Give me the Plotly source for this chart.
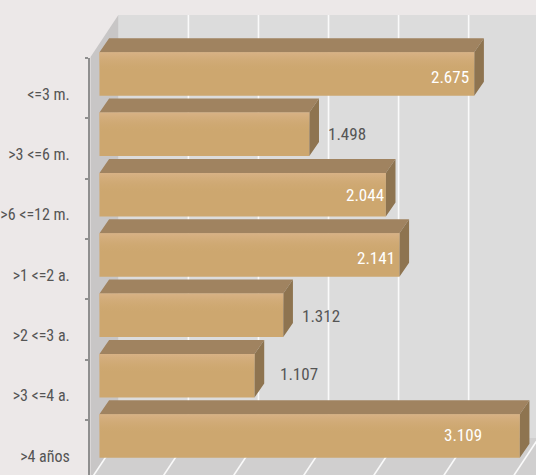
import plotly.graph_objects as go

categories = ["<=3 m.", ">3 <=6 m.", ">6 <=12 m.", ">1 <=2 a.", ">2 <=3 a.", ">3 <=4 a.", ">4 años"]
values = [2675, 1498, 2044, 2141, 1312, 1107, 3109]
value_labels = ["2.675", "1.498", "2.044", "2.141", "1.312", "1.107", "3.109"]
grid_values = [0, 500, 1000, 1500, 2000, 2500, 3000]

W, H = 536, 475
AXIS_MAX = 3000
X0_PX, PX_PER_UNIT = 97.0, 422.7 / 3000
Y0_PX, PITCH = 74.0, 60.33
BAR_H = 43.5
DX, DY = 9.7, 14.0          # bar depth, px
WALL_DX = 19.0
FONT = "Roboto Condensed, DejaVu Sans Condensed, Liberation Sans, sans-serif"
xd = lambda px: (px - X0_PX) / PX_PER_UNIT
yd = lambda py: (py - Y0_PX) / PITCH
xp = lambda v: X0_PX + v * PX_PER_UNIT
hw = BAR_H / PITCH / 2

clipped = [min(v, AXIS_MAX) for v in values]

top_x, top_y, side_x, side_y = [], [], [], []
for i, v in enumerate(clipped):
    t, b = i - hw, i + hw
    ddx, ddy = DX / PX_PER_UNIT, DY / PITCH
    top_x += [0, ddx, v + ddx, v, 0, None]
    top_y += [t, t - ddy, t - ddy, t, t, None]
    side_x += [v, v + ddx, v + ddx, v, v, None]
    side_y += [t, t - ddy, b - ddy, b, t, None]

fig = go.Figure()
fig.add_trace(go.Scatter(x=top_x, y=top_y, fill="toself", mode="none", fillcolor="#A08360", hoverinfo="skip", showlegend=False))
fig.add_trace(go.Scatter(x=side_x, y=side_y, fill="toself", mode="none", fillcolor="#8E7450", hoverinfo="skip", showlegend=False))
fig.add_trace(go.Bar(y=list(range(len(values))), x=clipped, orientation="h", width=BAR_H / PITCH,
                     marker=dict(color="#CDA76F", line=dict(width=0)), showlegend=False, hoverinfo="skip"))
# soft highlight along the top of every front face
for i, v in enumerate(clipped):
    fig.add_trace(go.Scatter(x=[0, v, v, 0, 0], y=[i - hw, i - hw, i + hw, i + hw, i - hw], fill="toself", mode="none",
                             fillgradient=dict(type="vertical", colorscale=[[0, "rgba(205,167,111,0)"], [0.55, "rgba(205,167,111,0)"], [1, "rgba(216,178,134,1)"]]),
                             hoverinfo="skip", showlegend=False))
# category axis carrier
fig.add_trace(go.Scatter(x=[0] * len(categories), y=categories, yaxis="y2", mode="markers", marker=dict(opacity=0, size=1),
                         hoverinfo="skip", showlegend=False))

# 3D box chrome
def poly(pts, color):
    path = "M " + " L ".join(f"{xd(px):.3f},{yd(py):.4f}" for px, py in pts) + " Z"
    return dict(type="path", path=path, xref="x", yref="y", fillcolor=color, line=dict(width=0), layer="below")

wall_top, wall_bot, front_bot = 15.0, 438.0, 480.0
front_left = 88.0
back_left = 116.0
shapes = [
    poly([(back_left, wall_top), (560, wall_top), (560, wall_bot), (back_left, wall_bot)], "#DCDCDC"),
    poly([(back_left, wall_bot), (560, wall_bot), (560, front_bot), (front_left, front_bot)], "#D0CFCF"),
    poly([(back_left, wall_top), (back_left, wall_bot), (front_left, front_bot), (front_left, 57)], "#C8C6C6"),
]
for g in grid_values:
    bx = xp(g) + WALL_DX
    col = "#FAFAFA"
    if g > 0:
        shapes.append(dict(type="line", x0=xd(bx), x1=xd(bx), y0=yd(wall_top), y1=yd(wall_bot), xref="x", yref="y",
                           line=dict(color=col, width=1.6), layer="below"))
    shapes.append(dict(type="line", x0=xd(bx), x1=xd(bx - 28), y0=yd(wall_bot), y1=yd(front_bot), xref="x", yref="y",
                       line=dict(color=col, width=1.6), layer="below"))

annotations = []
offsets = {0: (-3, 3), 1: (17, 0), 2: (0, 0), 3: (-2, 3), 4: (17, 1), 5: (23, -2), 6: (-36, -1)}
for i, lab in enumerate(value_labels):
    outside = offsets[i][0] > 0
    annotations.append(dict(x=clipped[i], y=i, text=lab, showarrow=False, xanchor="left" if outside else "right",
                            xshift=offsets[i][0], yshift=-offsets[i][1],
                            font=dict(family=FONT, size=17, color="#555555" if outside else "#FFFFFF")))

fig.update_layout(
    width=W, height=H, autosize=False, margin=dict(l=0, r=0, t=0, b=0),
    paper_bgcolor="#ECE8E8", plot_bgcolor="rgba(0,0,0,0)", barmode="overlay",
    shapes=shapes, annotations=annotations, showlegend=False,
    xaxis=dict(range=[xd(0), xd(W)], domain=[0, 1], visible=False, fixedrange=True),
    yaxis=dict(range=[yd(H), yd(0)], domain=[0, 1], visible=False, fixedrange=True),
    yaxis2=dict(type="category", categoryorder="array", categoryarray=categories,
                range=[(H - 58) / PITCH - 0.5, -0.5], domain=[0, (H - 58) / H],
                anchor="free", position=86.5 / W, side="left", tickson="boundaries",
                showline=True, linecolor="#8F8F8F", linewidth=2, showgrid=False, zeroline=False,
                ticks="outside", ticklen=3, tickcolor="#8F8F8F", tickwidth=2,
                ticklabelstandoff=15, ticklabelshift=-6,
                tickfont=dict(family=FONT, size=16, color="#555555"), fixedrange=True),
)
fig.write_html("out.html", config=dict(displayModeBar=False),
               post_script="document.documentElement.style.background='#ECE8E8';document.body.style.margin='0';document.body.style.overflow='hidden';")
